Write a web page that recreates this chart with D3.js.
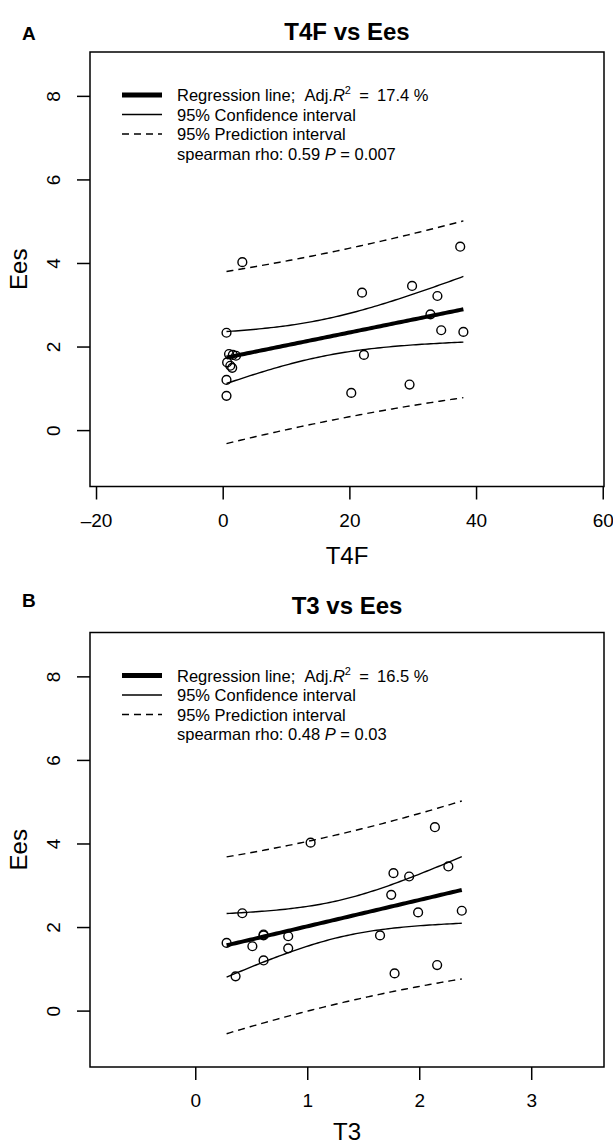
<!DOCTYPE html>
<html>
<head>
<meta charset="utf-8">
<script src="https://cdn.jsdelivr.net/npm/d3@7"></script>
<style>
  html, body { margin: 0; padding: 0; background: #fff; }
  svg { display: block; font-family: "Liberation Sans", Arial, sans-serif; }
</style>
</head>
<body>
<svg width="613" height="1146"></svg>
<script>
// ---------- data ----------

const ees = [4.02, 4.39, 3.29, 3.45, 3.21, 2.77, 2.39, 2.35, 2.33, 1.82,
             1.80, 1.78, 1.80, 1.62, 1.54, 1.49, 1.20, 1.09, 0.89, 0.82];
const t4f = [3.1, 37.5, 22.0, 29.9, 33.9, 32.8, 34.5, 38.0, 0.6, 1.0,
             1.6, 2.1, 22.3, 0.7, 1.2, 1.5, 0.6, 29.5, 20.3, 0.6];
const t3 = [1.03, 2.14, 1.77, 2.26, 1.91, 1.75, 2.38, 1.99, 0.42, 0.61,
            0.61, 0.83, 1.65, 0.28, 0.51, 0.83, 0.61, 2.16, 1.78, 0.36];

const eesTicks = [0, 2, 4, 6, 8];
const t4fTicks = [-20, 0, 20, 40, 60];
const t3Ticks = [0, 1, 2, 3];

const panelLetters = ['A', 'B'];
const panelTitles = ['T4F vs Ees', 'T3 vs Ees'];
const xLabels = ['T4F', 'T3'];
const adjR2 = ['17.4', '16.5'];
const rho = ['0.59', '0.48'];
const pValues = ['0.007', '0.03'];

// t quantile 0.975, n - 2 = 18 df
const T_CRIT = 2.1009;

const svg = d3.select('svg');

// ---------- stats ----------

const fitBands = (xs, ys) => {
  const n = xs.length;
  const mx = d3.mean(xs);
  const my = d3.mean(ys);
  const sxx = d3.sum(xs, (x) => (x - mx) ** 2);
  const sxy = d3.sum(xs, (x, i) => (x - mx) * (ys[i] - my));
  const b = sxy / sxx;
  const a = my - b * mx;
  const sse = d3.sum(xs, (x, i) => (ys[i] - a - b * x) ** 2);
  const s = Math.sqrt(sse / (n - 2));
  const [lo, hi] = d3.extent(xs);
  const steps = 80;
  return d3.range(steps + 1).map((i) => {
    const x = lo + ((hi - lo) * i) / steps;
    const fit = a + b * x;
    const h = 1 / n + (x - mx) ** 2 / sxx;
    const ci = T_CRIT * s * Math.sqrt(h);
    const pi = T_CRIT * s * Math.sqrt(1 + h);
    return { x, fit, ciLo: fit - ci, ciHi: fit + ci, piLo: fit - pi, piHi: fit + pi };
  });
};

// ---------- panel ----------

const TICK_FONT = 19;
const LEGEND_FONT = 16.5;

const drawPanel = ({ dy, xs, xDomain, xTicks, k, titleY, letterY, xLabelGap }) => {
  const box = { left: 90, right: 604, top: 52 + dy, bottom: 486.5 + dy };
  const x = d3.scaleLinear().domain(xDomain).range([box.left, box.right]);
  const y = d3.scaleLinear().domain([-1.35, 9.05]).range([box.bottom, box.top]);
  const g = svg.append('g');

  g.append('text')
    .attr('x', 22).attr('y', letterY)
    .attr('font-size', 19).attr('font-weight', 'bold')
    .text(panelLetters[k]);

  g.append('text')
    .attr('x', (box.left + box.right) / 2).attr('y', titleY)
    .attr('text-anchor', 'middle')
    .attr('font-size', 24).attr('font-weight', 'bold')
    .text(panelTitles[k]);

  g.append('rect')
    .attr('x', box.left).attr('y', box.top)
    .attr('width', box.right - box.left).attr('height', box.bottom - box.top)
    .attr('fill', 'none').attr('stroke', '#000').attr('stroke-width', 1.5);

  // axes
  const yAxis = g.append('g')
    .attr('transform', `translate(${box.left},0)`)
    .call(d3.axisLeft(y).tickValues(eesTicks).tickSize(13).tickPadding(0).tickFormat(d3.format('d')));
  yAxis.select('.domain').remove();
  yAxis.selectAll('.tick line').attr('stroke-width', 1.5);
  yAxis.selectAll('.tick text')
    .attr('x', null).attr('dy', null)
    .attr('transform', 'translate(-30.5,0) rotate(-90)')
    .attr('text-anchor', 'middle')
    .attr('font-size', TICK_FONT).attr('font-family', null);

  const xAxis = g.append('g')
    .attr('transform', `translate(0,${box.bottom})`)
    .call(d3.axisBottom(x).tickValues(xTicks).tickSize(13).tickPadding(0).tickFormat(d3.format('d')));
  xAxis.select('.domain').remove();
  xAxis.selectAll('.tick line').attr('stroke-width', 1.5);
  xAxis.selectAll('.tick text')
    .attr('dy', null).attr('y', 40)
    .attr('font-size', TICK_FONT).attr('font-family', null)
    .text((d) => (d < 0 ? '\u2013' + Math.abs(d) : d));

  g.append('text')
    .attr('transform', `translate(27,${(box.top + box.bottom) / 2}) rotate(-90)`)
    .attr('text-anchor', 'middle')
    .attr('font-size', 24)
    .text('Ees');

  g.append('text')
    .attr('x', (box.left + box.right) / 2).attr('y', box.bottom + xLabelGap)
    .attr('text-anchor', 'middle')
    .attr('font-size', 24)
    .text(xLabels[k]);

  // fit + bands
  const bands = fitBands(xs, ees);
  const line = (key) => d3.line().x((d) => x(d.x)).y((d) => y(d[key]))(bands);
  const plot = g.append('g').attr('fill', 'none').attr('stroke', '#000');
  ['piLo', 'piHi'].forEach((key) =>
    plot.append('path').attr('d', line(key)).attr('stroke-width', 1.4).attr('stroke-dasharray', '7,5'));
  ['ciLo', 'ciHi'].forEach((key) =>
    plot.append('path').attr('d', line(key)).attr('stroke-width', 1.4));
  plot.append('path').attr('d', line('fit')).attr('stroke-width', 4);

  g.append('g').selectAll('circle')
    .data(xs.map((v, i) => [v, ees[i]]))
    .join('circle')
    .attr('cx', (d) => x(d[0])).attr('cy', (d) => y(d[1]))
    .attr('r', 4.4)
    .attr('fill', 'none').attr('stroke', '#000').attr('stroke-width', 1.4);

  // legend
  const lg = g.append('g').attr('transform', `translate(0,${95 + dy})`);
  const rowH = 19.5;
  lg.append('line').attr('x1', 122).attr('x2', 162).attr('y1', 0).attr('y2', 0)
    .attr('stroke', '#000').attr('stroke-width', 5);
  lg.append('line').attr('x1', 122).attr('x2', 162).attr('y1', rowH).attr('y2', rowH)
    .attr('stroke', '#000').attr('stroke-width', 1.4);
  lg.append('line').attr('x1', 122).attr('x2', 162).attr('y1', 2 * rowH).attr('y2', 2 * rowH)
    .attr('stroke', '#000').attr('stroke-width', 1.4).attr('stroke-dasharray', '7,5');

  const txt = (row) => lg.append('text')
    .attr('x', 177).attr('y', row * rowH + 6)
    .attr('font-size', LEGEND_FONT);

  const t0 = txt(0);
  t0.append('tspan').text('Regression line;\u00a0\u00a0Adj.');
  t0.append('tspan').attr('font-style', 'italic').text('R');
  t0.append('tspan').attr('font-size', 11).attr('dy', -7).text('2');
  t0.append('tspan').attr('dy', 7).text(`\u2002=\u2002${adjR2[k]}\u00a0%`);
  txt(1).text('95% Confidence interval');
  txt(2).text('95% Prediction interval');
  const t3row = txt(3);
  t3row.append('tspan').text(`spearman rho: ${rho[k]} `);
  t3row.append('tspan').attr('font-style', 'italic').text('P');
  t3row.append('tspan').text(` = ${pValues[k]}`);
};

drawPanel({ dy: 0, xs: t4f, xDomain: [-20.95, 60.2], xTicks: t4fTicks, k: 0, titleY: 40, letterY: 40, xLabelGap: 77 });
drawPanel({ dy: 580.5, xs: t3, xDomain: [-0.94, 3.65], xTicks: t3Ticks, k: 1, titleY: 614, letterY: 607, xLabelGap: 73 });
</script>
</body>
</html>
